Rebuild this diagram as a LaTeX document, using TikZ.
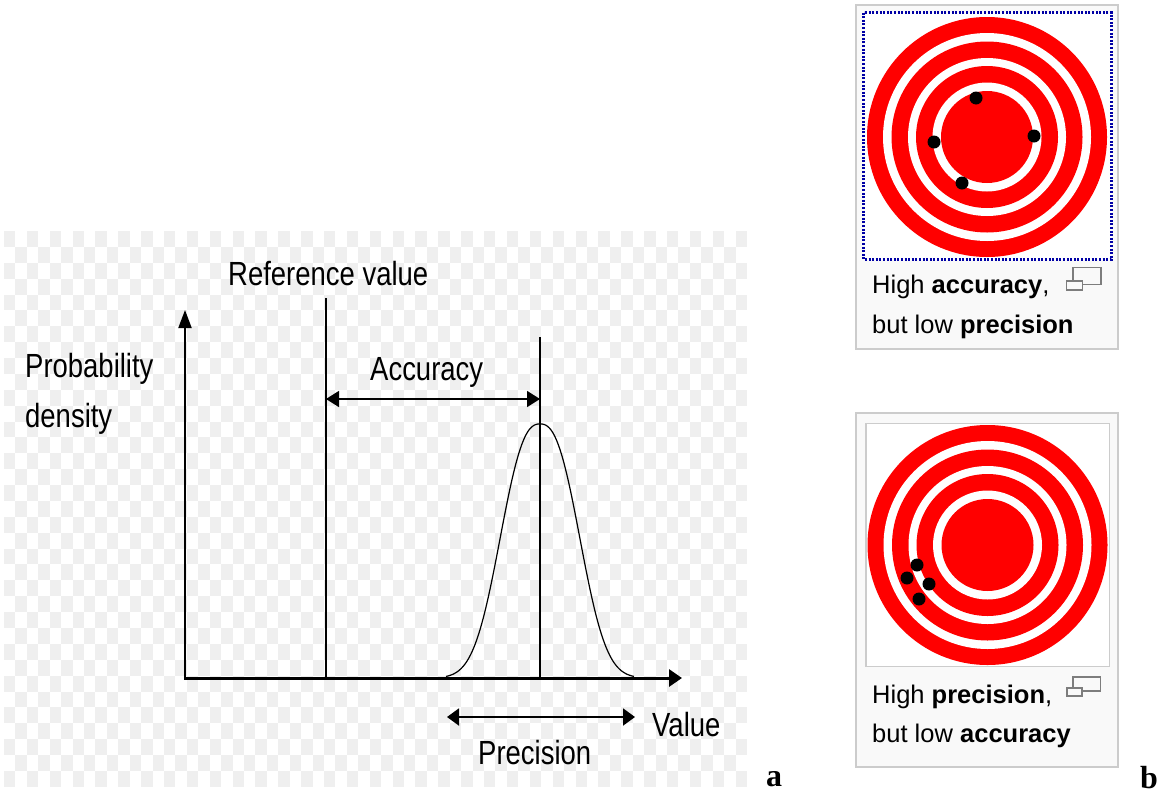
\documentclass[tikz,border=0pt]{standalone}
\usepackage{fontspec}
\setmainfont{Liberation Sans}
\newfontfamily\narrowfont[FakeStretch=0.82]{Liberation Sans}
\newfontfamily\seriffont{Liberation Serif}
\usetikzlibrary{arrows.meta}
\definecolor{checkgray}{RGB}{239,239,239}
\definecolor{panelbg}{RGB}{249,249,249}
\definecolor{panelborder}{RGB}{204,204,204}
\definecolor{targetred}{RGB}{255,0,0}
\definecolor{focusblue}{RGB}{0,0,165}
\definecolor{icongray}{RGB}{125,125,125}
\begin{document}
\begin{tikzpicture}[x=1pt,y=-1pt,
  plotlabel/.style={font=\narrowfont\fontsize{33.5}{40}\selectfont, inner sep=0pt, anchor=base west},
  captext/.style={font=\fontsize{25.5}{30}\selectfont, inner sep=0pt, anchor=base west},
  sublabel/.style={font=\seriffont\bfseries\fontsize{32}{36}\selectfont, inner sep=0pt, anchor=base west},
  yaxis/.style={line width=2pt, -{Triangle[length=18pt,width=13pt]}},
  xaxis/.style={line width=3pt, -{Triangle[length=13pt,width=17pt]}},
  dimarrow/.style={line width=1.6pt, {Triangle[length=13pt,width=16pt]}-{Triangle[length=13pt,width=16pt]}},
  precarrow/.style={line width=2pt, {Triangle[length=12pt,width=17pt]}-{Triangle[length=12pt,width=17pt]}},
  thinline/.style={line width=1.1pt},
  panel/.style={fill=panelbg, draw=panelborder, line width=1.5pt},
  shot/.style={fill=white, draw=panelborder, line width=1.2pt},
  focus/.style={draw=focusblue, line width=2.2pt, dash pattern=on 2pt off 1.6pt},
  dot/.style={fill=black},
  iconbox/.style={draw=icongray, line width=1.6pt, fill=panelbg}
]
\useasboundingbox (0,0) rectangle (1159,793);
\fill[white] (0,0) rectangle (1159,793);
% checkerboard background of the plot
\foreach \r in {0,...,34}{
  \foreach \c in {0,...,64}{
    \ifodd\numexpr\r+\c\relax\else
      \fill[checkgray] ({4+\c*11.43},{231+\r*15.88}) rectangle ++(11.43,15.88);
    \fi
  }
}
% coordinates
\coordinate (O) at (185,678);
\coordinate (Ostart) at (184,678);
\coordinate (ytip) at (185,310);
\coordinate (xtip) at (682,678);
\coordinate (reftop) at (326,298);
\coordinate (refbot) at (326,678);
\coordinate (peaktop) at (540,337);
\coordinate (peakbot) at (540,678);
\coordinate (accL) at (326,399);
\coordinate (accR) at (540,399);
\coordinate (preL) at (447,717);
\coordinate (preR) at (635,717);
% vertical lines and curve
\draw[thinline] (reftop) -- (refbot);
\draw[thinline] (peaktop) -- (peakbot);
\draw[line width=1.2pt, domain=446:634, samples=161, smooth]
  plot (\x, {678-254*exp(-((abs(\x-540)+0.001)/49)^2.5)});
% axes
\draw[yaxis] (O) -- (ytip);
\draw[xaxis] (Ostart) -- (xtip);
% arrows
\draw[dimarrow] (accL) -- (accR);
\draw[precarrow] (preL) -- (preR);
% labels
\node[plotlabel] (ref) at (228,285) {Reference value};
\node[plotlabel] (acc) at (370,380) {Accuracy};
\node[plotlabel] (prob) at (25,377) {Probability};
\node[plotlabel] (dens) at (25,427) {density};
\node[plotlabel] (val) at (652,736) {Value};
\node[plotlabel] (prec) at (478,764) {Precision};
\node[sublabel] (la) at (766,786) {a};
\node[sublabel] (lb) at (1140,788) {b};
% ---- top panel ----
\draw[panel] (856,5) rectangle (1118,349);
\fill[white] (863.5,12.5) rectangle (1111.5,259.5);
\coordinate (tc) at (987,137);
\fill[targetred] (tc) circle[radius=120pt];
\fill[white] (tc) circle[radius=104pt];
\fill[targetred] (tc) circle[radius=95.5pt];
\fill[white] (tc) circle[radius=79pt];
\fill[targetred] (tc) circle[radius=71pt];
\fill[white] (tc) circle[radius=54.5pt];
\fill[targetred] (tc) circle[radius=46pt];
\fill[dot] (976,98) circle[radius=6.5pt];
\fill[dot] (1034,136) circle[radius=6.5pt];
\fill[dot] (934,142) circle[radius=6.5pt];
\fill[dot] (962,183) circle[radius=6.5pt];
\draw[focus] (863.5,12.5) rectangle (1111.5,259.5);
\node[captext] (cap1a) at (872,293) {High \textbf{accuracy},};
\node[captext] (cap1b) at (872,333) {but low \textbf{precision}};
\draw[iconbox] (1073,267.5) rectangle (1101,284.5);
\draw[iconbox] (1066.5,281) rectangle (1082.5,290);
% ---- bottom panel ----
\draw[panel] (856,413) rectangle (1118,767);
\draw[shot] (866,423.5) rectangle (1109.5,666.5);
\coordinate (bc) at (987.5,545);
\fill[targetred] (bc) circle[radius=120pt];
\fill[white] (bc) circle[radius=104pt];
\fill[targetred] (bc) circle[radius=95.5pt];
\fill[white] (bc) circle[radius=79pt];
\fill[targetred] (bc) circle[radius=71pt];
\fill[white] (bc) circle[radius=54.5pt];
\fill[targetred] (bc) circle[radius=46pt];
\fill[dot] (917,565) circle[radius=6.5pt];
\fill[dot] (907,578) circle[radius=6.5pt];
\fill[dot] (929,584) circle[radius=6.5pt];
\fill[dot] (919,599) circle[radius=6.5pt];
\node[captext] (cap2a) at (872,703) {High \textbf{precision},};
\node[captext] (cap2b) at (872,742) {but low \textbf{accuracy}};
\draw[iconbox] (1073,677) rectangle (1100.5,691);
\draw[iconbox] (1067,688) rectangle (1082,696);
\end{tikzpicture}
\end{document}
